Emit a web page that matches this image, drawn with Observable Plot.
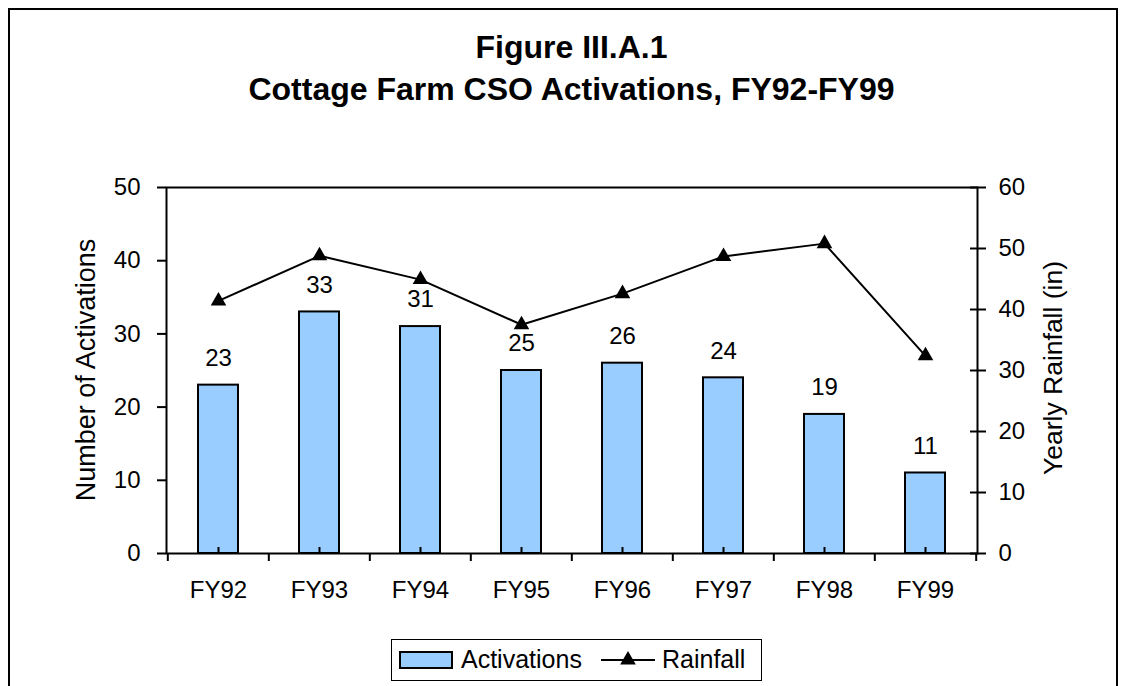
<!DOCTYPE html>
<html><head><meta charset="utf-8">
<script src="https://cdn.jsdelivr.net/npm/d3@7"></script>
<script src="https://cdn.jsdelivr.net/npm/@observablehq/plot@0.6"></script>
<style>
body{margin:0;background:#fff;font-family:"Liberation Sans",Arial,sans-serif;}
#wrap{position:relative;width:1127px;height:686px;overflow:hidden;background:#fff;}
#frame{position:absolute;left:8px;top:8px;width:1110px;height:720px;border:2px solid #000;box-sizing:border-box;}
#title{position:absolute;left:8px;top:26px;width:1127px;text-align:center;font-weight:bold;font-size:32px;line-height:42px;color:#000;}
#chart{position:absolute;left:0;top:0;}
.ytitle{position:absolute;transform:translate(-50%,-50%) rotate(-90deg);white-space:nowrap;color:#000;}
#legend{position:absolute;left:0;top:0;}
</style></head>
<body>
<div id="wrap">
  <div id="frame"></div>
  <div id="title">Figure III.A.1<br>Cottage Farm CSO Activations, FY92-FY99</div>
  <div id="chart"></div>
  <div class="ytitle" style="left:86px;top:370px;font-size:27px;">Number of Activations</div>
  <div class="ytitle" style="left:1053px;top:368px;font-size:26.5px;">Yearly Rainfall (in)</div>
  <svg id="legend" width="1127" height="686" style="pointer-events:none"></svg>
</div>
<script>
const years = ["FY92","FY93","FY94","FY95","FY96","FY97","FY98","FY99"];
const activations = [23, 33, 31, 25, 26, 24, 19, 11];
const rainfall = [41.4, 48.8, 44.9, 37.5, 42.6, 48.7, 50.8, 32.4];
const activationTicks = [0, 10, 20, 30, 40, 50];
const rainfallTicks = [0, 10, 20, 30, 40, 50, 60];
const seriesNames = ["Activations", "Rainfall"];

const actMax = 50, rainMax = 60;
const toLeft = v => v * actMax / rainMax;

const data = years.map((y, i) => ({year: y, act: activations[i], rain: rainfall[i]}));

const W = 1127, Ht = 686, mL = 166, mR = 150, mT = 187, mB = 133;
const plotH = Ht - mT - mB;
const step = (W - mL - mR) / years.length;
const barFill = "#99CCFF";

const chart = Plot.plot({
  width: W, height: Ht,
  marginLeft: mL, marginRight: mR, marginTop: mT, marginBottom: mB,
  style: {fontFamily: "'Liberation Sans', Arial, sans-serif", fontSize: "24px", color: "#000", background: "transparent"},
  x: {domain: years, paddingInner: 0.6, paddingOuter: 0.3, axis: null},
  y: {domain: [0, actMax], axis: null},
  marks: [
    Plot.barY(data, {x: "year", y: "act", fill: barFill, stroke: "#000", strokeWidth: 2}),
    Plot.ruleX(years, {x: d => d, insetTop: plotH - 6, stroke: "#000", strokeWidth: 2}),
    Plot.frame({stroke: "#000", strokeWidth: 2}),
    Plot.ruleX(years, {x: d => d, dx: -step / 2, insetTop: plotH, insetBottom: -8, stroke: "#000", strokeWidth: 2}),
    Plot.ruleX([years[years.length - 1]], {x: d => d, dx: step / 2, insetTop: plotH, insetBottom: -8, stroke: "#000", strokeWidth: 2}),
    Plot.axisX({tickSize: 0, tickPadding: 27, fontSize: 24, label: null}),
    Plot.axisY({ticks: activationTicks, tickSize: 9, tickPadding: 17, strokeWidth: 2, fontSize: 24, label: null}),
    Plot.axisY({anchor: "right", ticks: rainfallTicks.map(toLeft), tickSize: 16, dx: -8, tickPadding: 13, strokeWidth: 2,
      tickFormat: d => String(Math.round(d * rainMax / actMax)), fontSize: 24, label: null}),
    Plot.text(data, {x: "year", y: "act", text: d => String(d.act), dy: -27, fontSize: 24, fill: "#000"}),
    Plot.line(data, {x: "year", y: d => toLeft(d.rain), stroke: "#000", strokeWidth: 2}),
    Plot.dot(data, {x: "year", y: d => toLeft(d.rain), symbol: "triangle", r: 5.8, fill: "#000", stroke: "none"})
  ]
});
document.getElementById("chart").appendChild(chart);

// Legend
const lg = d3.select("#legend");
lg.append("rect").attr("x", 391.5).attr("y", 639.5).attr("width", 370).attr("height", 41)
  .attr("fill", "#fff").attr("stroke", "#000").attr("stroke-width", 1);
lg.append("rect").attr("x", 400).attr("y", 652).attr("width", 52).attr("height", 16)
  .attr("fill", barFill).attr("stroke", "#000").attr("stroke-width", 2);
lg.append("text").attr("x", 461).attr("y", 668).attr("font-size", 25)
  .attr("font-family", "'Liberation Sans', Arial, sans-serif").text(seriesNames[0]);
lg.append("line").attr("x1", 601).attr("x2", 655).attr("y1", 660).attr("y2", 660)
  .attr("stroke", "#000").attr("stroke-width", 2);
lg.append("path").attr("transform", "translate(628,660)")
  .attr("d", d3.symbol(d3.symbolTriangle, 5.8 * 5.8 * Math.PI)()).attr("fill", "#000");
lg.append("text").attr("x", 662).attr("y", 668).attr("font-size", 25)
  .attr("font-family", "'Liberation Sans', Arial, sans-serif").text(seriesNames[1]);
</script>
</body></html>
